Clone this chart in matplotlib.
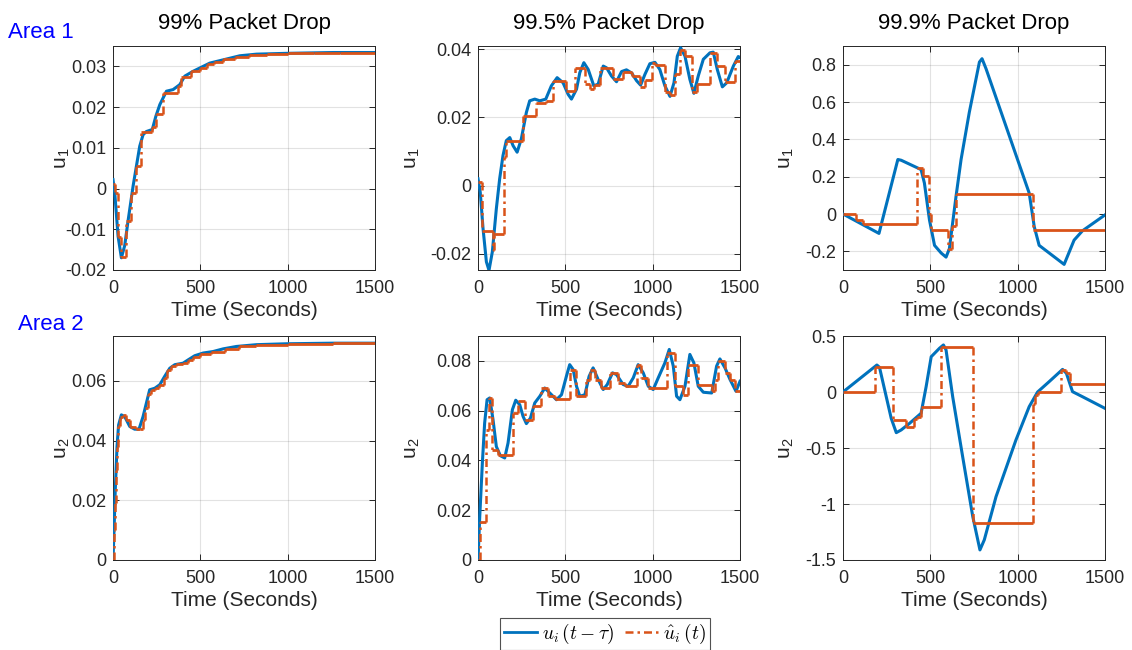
import numpy as np
import matplotlib
matplotlib.use("Agg")
import matplotlib.pyplot as plt
from matplotlib.ticker import MultipleLocator, FuncFormatter
from matplotlib.lines import Line2D

plt.rcParams['font.family'] = ['Liberation Sans', 'DejaVu Sans']
plt.rcParams['axes.unicode_minus'] = False
plt.rcParams['mathtext.fontset'] = 'cm'

# ---------------- data ----------------
titles = ["99% Packet Drop", "99.5% Packet Drop", "99.9% Packet Drop"]
row_labels = ["Area 1", "Area 2"]
y_labels = ["u$_{\\mathregular{1}}$", "u$_{\\mathregular{2}}$"]
x_label = "Time (Seconds)"
legend_labels = ["$u_i\\,(t-\\tau)$", "$\\hat{u}_i\\,(t)$"]

# Area 1, 99%
a1_p99_t = [0, 10, 29, 48, 67, 86, 115, 134, 153, 172, 191, 225, 245, 268, 306, 344, 382, 411,
            459, 497, 554, 592, 650, 726, 822, 994, 1261, 1500]
a1_p99_u = [0.0022, -0.001, -0.0117, -0.017, -0.014, -0.008, 0.0006, 0.0055, 0.0104, 0.0132,
            0.014, 0.0145, 0.0177, 0.0206, 0.0239, 0.0243, 0.0255, 0.0276, 0.0288, 0.0296,
            0.0308, 0.0312, 0.0318, 0.0326, 0.033, 0.0332, 0.0334, 0.0334]
a1_p99_ht = [0, 12, 29, 44, 73, 105, 130, 162, 225, 248, 287, 373, 392, 449, 497, 540, 580,
             630, 700, 780, 880, 1000, 1150, 1300, 1500]
a1_p99_hu = [0.001, -0.001, -0.012, -0.0167, -0.008, -0.0012, 0.0056, 0.014, 0.0151, 0.0182,
             0.0235, 0.0251, 0.0274, 0.0288, 0.0296, 0.0305, 0.0311, 0.0317, 0.0323, 0.0328,
             0.0331, 0.0332, 0.0333, 0.0334, 0.0334]

# Area 1, 99.5%
a1_p995_t = [0, 13, 29, 48, 63, 82, 105, 124, 143, 162, 182, 201, 224, 248, 277, 296, 325, 354,
             388, 420, 453, 487, 516, 535, 564, 583, 606, 631, 663, 688, 717, 736, 764, 793,
             822, 850, 879, 908, 931, 956, 984, 1013, 1041, 1070, 1099, 1122, 1141, 1160, 1185,
             1213, 1236, 1261, 1290, 1328, 1347, 1370, 1399, 1424, 1462, 1490, 1500]
a1_p995_u = [0.002, -0.002, -0.0127, -0.0224, -0.0249, -0.0195, -0.0068, 0.002, 0.0088, 0.0132,
             0.0141, 0.0117, 0.0098, 0.0137, 0.0215, 0.0249, 0.0254, 0.0249, 0.0254, 0.0293,
             0.0317, 0.0302, 0.0268, 0.0254, 0.0283, 0.0332, 0.0361, 0.0341, 0.0293, 0.0298,
             0.0351, 0.0346, 0.0322, 0.0305, 0.0335, 0.034, 0.0331, 0.0308, 0.0295, 0.0327,
             0.0358, 0.0362, 0.0341, 0.0293, 0.0262, 0.0302, 0.038, 0.0405, 0.038, 0.0312,
             0.0271, 0.0322, 0.0371, 0.039, 0.0392, 0.0341, 0.029, 0.0302, 0.0351, 0.0379, 0.0376]
a1_p995_ht = [0, 25, 86, 92, 147, 159, 258, 331, 392, 430, 506, 553, 612, 640, 665, 700, 775,
              832, 880, 928, 957, 995, 1013, 1070, 1099, 1127, 1156, 1185, 1223, 1251, 1328,
              1366, 1414, 1471, 1500]
a1_p995_hu = [0.001, -0.0134, -0.019, -0.0143, 0.0083, 0.0132, 0.0205, 0.0244, 0.0249, 0.0307,
              0.0278, 0.0346, 0.0298, 0.0285, 0.0295, 0.0346, 0.0312, 0.0335, 0.0322, 0.029,
              0.031, 0.036, 0.0355, 0.0274, 0.0266, 0.0328, 0.0398, 0.038, 0.0274, 0.0298,
              0.0389, 0.035, 0.0305, 0.0365, 0.0365]

# Area 1, 99.9%
a1_p999_t = [0, 206, 314, 333, 447, 466, 495, 524, 562, 590, 609, 647, 676, 723, 781, 796, 819,
             1066, 1095, 1123, 1266, 1323, 1371, 1500]
a1_p999_u = [0.0, -0.104, 0.292, 0.288, 0.238, 0.166, -0.032, -0.168, -0.209, -0.231, -0.186,
             0.094, 0.292, 0.544, 0.814, 0.832, 0.778, 0.112, -0.068, -0.168, -0.27, -0.14,
             -0.09, -0.005]
a1_p999_ht = [0, 72, 114, 423, 457, 491, 505, 600, 625, 647, 1089, 1500]
a1_p999_hu = [0.0, -0.032, -0.055, 0.245, 0.205, 0.0, -0.085, -0.19, -0.065, 0.108, -0.085,
              -0.085]

# Area 2, 99%
a2_p99_t = [0, 6, 13, 23, 32, 48, 67, 96, 124, 149, 172, 191, 210, 239, 268, 296, 325, 354, 401,
            430, 468, 516, 573, 631, 707, 822, 994, 1261, 1500]
a2_p99_u = [0.0, 0.01, 0.0235, 0.038, 0.0452, 0.0486, 0.048, 0.0447, 0.0438, 0.0438, 0.048,
            0.0525, 0.057, 0.0575, 0.0587, 0.0615, 0.0642, 0.0654, 0.0659, 0.067, 0.0684,
            0.0693, 0.0698, 0.0707, 0.0715, 0.0721, 0.0724, 0.0726, 0.0726]
a2_p99_ht = [0, 6, 10, 15, 22, 30, 42, 55, 75, 100, 130, 155, 170, 185, 200, 215, 240, 265, 290,
             310, 330, 360, 400, 430, 460, 500, 560, 640, 720, 820, 1000, 1260, 1500]
a2_p99_hu = [0.0, 0.01, 0.019, 0.03, 0.038, 0.045, 0.048, 0.0486, 0.047, 0.0445, 0.0438, 0.044,
             0.047, 0.051, 0.0555, 0.057, 0.0575, 0.0585, 0.061, 0.0635, 0.065, 0.0655, 0.066,
             0.067, 0.068, 0.069, 0.0698, 0.0707, 0.0715, 0.0721, 0.0724, 0.0726, 0.0726]

# Area 2, 99.5%
a2_p995_t = [0, 10, 25, 38, 52, 67, 86, 105, 128, 153, 172, 197, 216, 239, 258, 277, 300, 325,
             354, 382, 411, 449, 478, 506, 525, 545, 564, 583, 612, 636, 659, 688, 717, 740, 770,
             793, 831, 860, 889, 917, 946, 975, 1003, 1032, 1070, 1095, 1118, 1137, 1156, 1185,
             1213, 1236, 1261, 1290, 1338, 1366, 1385, 1414, 1443, 1477, 1500]
a2_p995_u = [0.0, 0.0174, 0.039, 0.055, 0.0644, 0.0651, 0.0564, 0.0456, 0.0419, 0.041, 0.047,
             0.0604, 0.0642, 0.0624, 0.0577, 0.0548, 0.057, 0.0631, 0.0658, 0.0691, 0.0671,
             0.0644, 0.0664, 0.0738, 0.0785, 0.0765, 0.0698, 0.0658, 0.0664, 0.0738, 0.0772,
             0.0725, 0.0685, 0.0705, 0.0752, 0.0745, 0.0705, 0.0698, 0.0732, 0.0785, 0.0752,
             0.0698, 0.0685, 0.0732, 0.0792, 0.0846, 0.0779, 0.0658, 0.0644, 0.0698, 0.0826,
             0.0792, 0.0698, 0.0674, 0.0671, 0.0779, 0.0808, 0.0772, 0.0725, 0.0678, 0.0718]
a2_p995_ht = [0, 10, 44, 63, 82, 115, 200, 229, 268, 315, 363, 401, 440, 525, 560, 621, 644, 669,
              707, 755, 803, 841, 908, 936, 975, 1080, 1127, 1175, 1204, 1261, 1338, 1357, 1376,
              1414, 1443, 1471, 1500]
a2_p995_hu = [0.0, 0.0154, 0.0523, 0.0651, 0.0443, 0.0423, 0.059, 0.0637, 0.0564, 0.0617,
              0.0691, 0.0658, 0.0647, 0.0765, 0.0658, 0.0725, 0.0765, 0.0725, 0.0691, 0.0752,
              0.0711, 0.0698, 0.0785, 0.0732, 0.0691, 0.0832, 0.0698, 0.0664, 0.0785, 0.0705,
              0.0678, 0.0725, 0.08, 0.0752, 0.0725, 0.0678, 0.0678]

# Area 2, 99.9%
a2_p999_t = [0, 194, 209, 276, 305, 333, 381, 447, 476, 505, 552, 575, 590, 628, 685, 743, 784,
             809, 876, 990, 1066, 1114, 1180, 1257, 1279, 1314, 1371, 1500]
a2_p999_u = [0.0, 0.241, 0.22, -0.235, -0.363, -0.339, -0.28, -0.19, 0.048, 0.315, 0.39, 0.42,
             0.375, -0.042, -0.577, -1.113, -1.41, -1.32, -0.935, -0.429, -0.131, 0.0, 0.092,
             0.202, 0.167, 0.003, -0.042, -0.146]
a2_p999_ht = [0, 181, 286, 362, 404, 425, 447, 562, 746, 1089, 1100, 1114, 1247, 1279, 1298, 1500]
a2_p999_hu = [0.0, 0.22, -0.25, -0.31, -0.244, -0.22, -0.131, 0.399, -1.167, -0.107, -0.027,
              0.0, 0.196, 0.167, 0.068, 0.068]

series = [
    [(a1_p99_t, a1_p99_u, a1_p99_ht, a1_p99_hu),
     (a1_p995_t, a1_p995_u, a1_p995_ht, a1_p995_hu),
     (a1_p999_t, a1_p999_u, a1_p999_ht, a1_p999_hu)],
    [(a2_p99_t, a2_p99_u, a2_p99_ht, a2_p99_hu),
     (a2_p995_t, a2_p995_u, a2_p995_ht, a2_p995_hu),
     (a2_p999_t, a2_p999_u, a2_p999_ht, a2_p999_hu)],
]

# ---------------- style ----------------
ylims = [[(-0.02, 0.035), (-0.0248, 0.041), (-0.3, 0.9)],
         [(0, 0.075), (0, 0.09), (-1.5, 0.5)]]
ysteps = [[0.01, 0.02, 0.2], [0.02, 0.02, 0.5]]
blue = '#0072BD'
orange = '#D95319'
axc = '#262626'
dashdot = (0, (3.2, 1.6, 1.0, 1.6))

fig = plt.figure(figsize=(11.32, 6.5), dpi=100)
lefts = [113 / 1132, 478 / 1132, 843 / 1132]
width = 262 / 1132
bottoms = [1 - 270 / 650, 1 - 560 / 650]
height = 224 / 650
ylabel_x = [(72 - 113) / 262, (422 - 478) / 262, (796 - 843) / 262]

fmt = FuncFormatter(lambda v, p: '%g' % round(v, 8))

for r in range(2):
    for c in range(3):
        ax = fig.add_axes([lefts[c], bottoms[r], width, height])
        t, u, ht, hu = series[r][c]
        ax.plot(t, u, color=blue, lw=2.2, zorder=3)
        ht_a = np.asarray(ht, float)
        hu_a = np.asarray(hu, float)
        # zero-order hold: flat holds solid, jumps dash-dotted
        ax.hlines(hu_a[:-1], ht_a[:-1], ht_a[1:], color=orange, lw=2.0, zorder=4)
        ax.vlines(ht_a[1:-1], hu_a[:-2], hu_a[1:-1], color=orange, lw=1.8,
                  linestyles=[dashdot], zorder=4)
        ax.set_xlim(0, 1500)
        ax.set_ylim(*ylims[r][c])
        ax.xaxis.set_major_locator(MultipleLocator(500))
        ax.yaxis.set_major_locator(MultipleLocator(ysteps[r][c]))
        ax.yaxis.set_major_formatter(fmt)
        ax.grid(True, color='#262626', alpha=0.13, lw=0.8)
        ax.set_axisbelow(True)
        ax.tick_params(direction='in', top=True, right=True, length=4, labelsize=13,
                       colors=axc, width=0.7)
        ax.tick_params(axis='x', pad=7)
        ax.tick_params(axis='y', pad=5)
        for s in ax.spines.values():
            s.set_color(axc)
            s.set_linewidth(0.7)
        ax.set_xlabel(x_label, fontsize=15, color=axc, labelpad=3)
        ax.set_ylabel(y_labels[r], fontsize=15, color=axc)
        ax.yaxis.set_label_coords(ylabel_x[c], 0.5)
        if r == 0:
            ax.set_title(titles[c], fontsize=16, color='black', pad=12)

fig.text(0.007, 1 - 33 / 650, row_labels[0], color='#0000FF', fontsize=16, va='center', ha='left')
fig.text(0.016, 1 - 325 / 650, row_labels[1], color='#0000FF', fontsize=16, va='center', ha='left')

handles = [Line2D([], [], color=blue, lw=2.0),
           Line2D([], [], color=orange, lw=1.8, ls=dashdot)]
leg = fig.legend(handles, legend_labels, loc='center', bbox_to_anchor=(605 / 1132, 1 - 634 / 650),
                 ncol=2, fontsize=14, frameon=True, fancybox=False, edgecolor='#262626',
                 handlelength=1.7, handletextpad=0.25, columnspacing=0.5, borderpad=0.2,
                 borderaxespad=0)
leg.get_frame().set_linewidth(0.8)

fig.savefig('out.png', dpi=100)
